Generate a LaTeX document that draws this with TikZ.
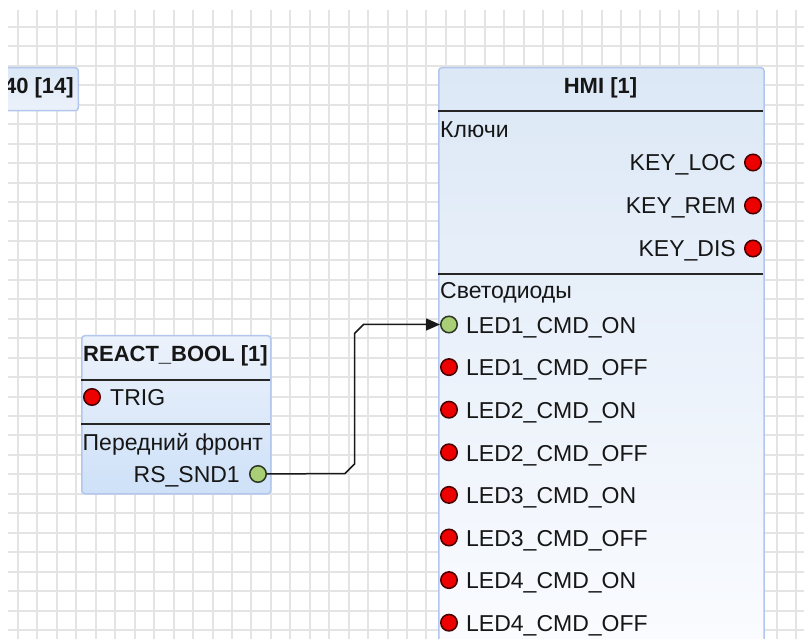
\documentclass[tikz,border=0pt]{standalone}
\usepackage{fontspec}
\setmainfont{Liberation Sans}
\usetikzlibrary{arrows.meta}
\definecolor{gridc}{RGB}{228,228,228}
\definecolor{boxborder}{RGB}{178,198,238}
\definecolor{sepc}{RGB}{38,38,38}
\definecolor{portred}{RGB}{236,0,0}
\definecolor{portredb}{RGB}{70,0,0}
\definecolor{portgreen}{RGB}{168,206,118}
\definecolor{portgreenb}{RGB}{45,55,35}
\definecolor{hmitop}{RGB}{220,232,246}
\definecolor{hmimid}{RGB}{228,237,249}
\definecolor{hmibot}{RGB}{251,252,255}
\definecolor{rbtop}{RGB}{236,242,251}
\definecolor{rbbot}{RGB}{206,225,248}
\definecolor{txt}{RGB}{22,22,22}
\begin{document}
\begin{tikzpicture}[x=1pt,y=-1pt,
  lbl/.style={inner sep=0pt, text=txt, font=\fontsize{23}{27}\selectfont},
  ttl/.style={inner sep=0pt, text=txt, font=\bfseries\fontsize{22}{26}\selectfont},
  redport/.style={circle, draw=portredb, fill=portred, line width=1.5pt, minimum size=16.5pt, inner sep=0pt},
  greenport/.style={circle, draw=portgreenb, fill=portgreen, line width=1.5pt, minimum size=16.5pt, inner sep=0pt},
  sepline/.style={draw=sepc, line width=2pt},
  blockbox/.style={draw=boxborder, line width=1.5pt, rounded corners=3pt, inner sep=0pt},
  wire/.style={draw=black!90, line width=1.5pt},
  gridline/.style={draw=gridc, line width=2pt}
]
\useasboundingbox (0,0) rectangle (804,639);
\clip (8,10) rectangle (804,639);
% grid
\foreach \k in {0,...,40} \draw[gridline] (18+19.45*\k,10) -- (18+19.45*\k,639);
\foreach \k in {0,...,31} \draw[gridline] (8,27+19.45*\k) -- (804,27+19.45*\k);

% partially visible block at top left
\node[blockbox, top color=hmitop, bottom color=rbtop, minimum width=160pt, minimum height=43pt, anchor=north east] (aibox) at (79,67) {};
\node[ttl, anchor=base east] (aititle) at (74,94) {40 [14]};

% HMI block
\node[blockbox, top color=hmitop, middle color=hmimid, bottom color=hmibot, minimum width=325.3pt, minimum height=600pt, anchor=north west] (hmi) at (438,67) {};
\node[ttl, anchor=base] (hmititle) at (600.5,94) {HMI [1]};
\draw[sepline] (438,111) -- (763.3,111);
\node[lbl, anchor=base west] (keys) at (440,137.5) {Ключи};
\node[redport] (keyloc) at (753,162.5) {};
\node[lbl, anchor=base east] (keyloclbl) at (736,170.7) {KEY\_LOC};
\node[redport] (keyrem) at (753,205.5) {};
\node[lbl, anchor=base east] (keyremlbl) at (736,213.7) {KEY\_REM};
\node[redport] (keydis) at (753,248.5) {};
\node[lbl, anchor=base east] (keydislbl) at (736,256.7) {KEY\_DIS};
\draw[sepline] (438,274) -- (763.3,274);
\node[lbl, anchor=base west] (leds) at (440,299) {Светодиоды};
\node[greenport] (led0) at (449,324.5) {};
\node[lbl, anchor=base west] (led0lbl) at (466,333.3) {LED1\_CMD\_ON};
\foreach \t [count=\i] in {LED1\_CMD\_OFF,LED2\_CMD\_ON,LED2\_CMD\_OFF,LED3\_CMD\_ON,LED3\_CMD\_OFF,LED4\_CMD\_ON,LED4\_CMD\_OFF}{
  \node[redport] (led\i) at (449,324.5+42.6*\i) {};
  \node[lbl, anchor=base west] (led\i lbl) at (466,333.3+42.6*\i) {\t};
}

% REACT_BOOL block
\node[blockbox, top color=rbtop, bottom color=rbbot, minimum width=189pt, minimum height=158pt, anchor=north west] (rb) at (81,335) {};
\node[ttl, anchor=base] (rbtitle) at (175.5,361.7) {REACT\_BOOL [1]};
\draw[sepline] (81,380) -- (270,380);
\node[redport] (trig) at (92,397) {};
\node[lbl, anchor=base west] (triglbl) at (110,405) {TRIG};
\draw[sepline] (81,424) -- (270,424);
\node[lbl, anchor=base west] (front) at (82.5,450) {Передний фронт};
\node[greenport] (rssnd) at (258,474) {};
\node[lbl, anchor=base east] (rssndlbl) at (240,482.7) {RS\_SND1};

% connector
\draw[wire, -{Triangle[length=14pt,width=12pt]}] (rssnd.east) -- (345,473.5) -- (354.5,464) -- (354.5,333.5) -- (363.5,324.5) -- (led0.west);
\end{tikzpicture}
\end{document}
